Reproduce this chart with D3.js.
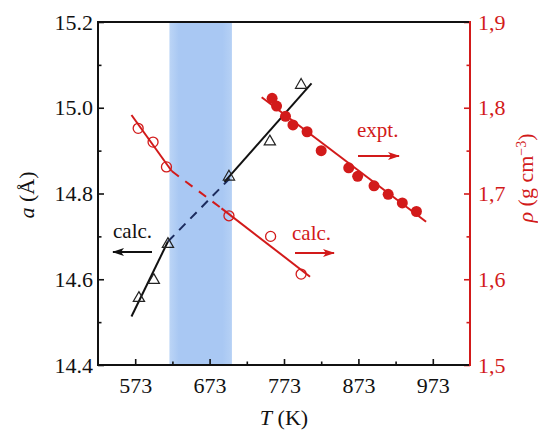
<!DOCTYPE html>
<meta charset="utf-8">
<style>
body { margin: 0; background: #fff; }
svg { display: block; }
text { font-family: "Liberation Serif", "Times New Roman", serif; }
</style>
<svg width="538" height="431"></svg>
<script src="https://d3js.org/d3.v7.min.js"></script>
<script>

// calculated lattice parameter a (open triangles)
var calcAT = [578, 598, 617, 699, 754, 796];
var calcA = [14.556, 14.598, 14.682, 14.839, 14.921, 15.053];

// calculated density (open circles)
var calcRhoT = [577, 597, 615, 699, 755, 796];
var calcRho = [1.776, 1.760, 1.731, 1.674, 1.650, 1.606];

// experimental density (filled circles)
var exptT = [757, 763, 775, 785, 804, 823, 860, 872, 894, 913, 932, 951];
var exptRho = [1.811, 1.802, 1.790, 1.780, 1.772, 1.750, 1.730, 1.720, 1.709, 1.699, 1.689, 1.679];

// fitted lines [T, value]
var aFitLow = [[568, 14.513], [617, 14.688]];
var aFitDash = [[617, 14.688], [700, 14.835]];
var aFitHigh = [[693, 14.827], [810, 15.057]];
var rhoFitLow = [[568, 1.7915], [622, 1.7262]];
var rhoFitDash = [[622, 1.7262], [689, 1.6827]];
var rhoFitHigh = [[689, 1.6827], [808, 1.603]];
var exptFit = [[743, 1.8122], [964, 1.6671]];

// shaded transition range
var band = [619, 703];

var xMajor = [573, 673, 773, 873, 973];
var xMinor = [623, 723, 823, 923];
var aMajor = [14.4, 14.6, 14.8, 15.0, 15.2];
var aMinor = [14.5, 14.7, 14.9, 15.1];
var rMajor = [1.5, 1.6, 1.7, 1.8, 1.9];
var rMinor = [1.55, 1.65, 1.75, 1.85];

var red = "#d21a1a";

var svg = d3.select("svg"),
    pL = 98, pR = 470, pT = 22, pB = 365;

var x = d3.scaleLinear().domain([523, 1023]).range([pL, pR]);
var yA = d3.scaleLinear().domain([14.4, 15.2]).range([pB, pT]);
var yR = d3.scaleLinear().domain([1.5, 1.9]).range([pB, pT]);

var defs = svg.append("defs");
var grad = defs.append("linearGradient").attr("id", "bandGrad");
grad.append("stop").attr("offset", "0%").attr("stop-color", "#bcd5f6");
grad.append("stop").attr("offset", "15%").attr("stop-color", "#a9c8f3");
grad.append("stop").attr("offset", "85%").attr("stop-color", "#a9c8f3");
grad.append("stop").attr("offset", "100%").attr("stop-color", "#b6d1f5");

function arrowMarker(id, color) {
  defs.append("marker")
      .attr("id", id)
      .attr("markerUnits", "userSpaceOnUse")
      .attr("viewBox", "0 0 12 8")
      .attr("refX", 11).attr("refY", 4)
      .attr("markerWidth", 12).attr("markerHeight", 8)
      .attr("orient", "auto")
    .append("path")
      .attr("d", "M0,0L12,4L0,8L3,4Z")
      .attr("fill", color);
}
arrowMarker("arrBlack", "#111");
arrowMarker("arrRed", red);

// band
svg.append("rect")
    .attr("x", x(band[0]))
    .attr("y", pT)
    .attr("width", x(band[1]) - x(band[0]))
    .attr("height", pB - pT)
    .attr("fill", "url(#bandGrad)");

// ticks
function ticks(axis, trans, vals, size, fmt, pad, color) {
  var g = svg.append("g").attr("transform", trans)
      .call(axis.tickValues(vals).tickSize(size).tickSizeOuter(0).tickPadding(pad).tickFormat(fmt));
  g.select(".domain").remove();
  g.selectAll("line").attr("stroke", color).attr("stroke-width", 1.6);
  g.selectAll("text").attr("font-size", 22).attr("fill", color)
      .attr("font-family", "Liberation Serif, Times New Roman, serif");
  return g;
}

ticks(d3.axisBottom(x), "translate(0," + pB + ")", xMajor, -6, d3.format("d"), 12.5, "#111");
ticks(d3.axisBottom(x), "translate(0," + pB + ")", xMinor, -3.5, "", 0, "#111");
ticks(d3.axisLeft(yA), "translate(" + pL + ",0)", aMajor, -6, d3.format(".1f"), 5, "#111");
ticks(d3.axisLeft(yA), "translate(" + pL + ",0)", aMinor, -3.5, "", 0, "#111");
ticks(d3.axisRight(yR), "translate(" + pR + ",0)", rMajor, -6,
  function(d) { return d3.format(".1f")(d).replace(".", ","); }, 8, red);
ticks(d3.axisRight(yR), "translate(" + pR + ",0)", rMinor, -3.5, "", 0, red);

// frame
svg.append("path")
    .attr("d", "M" + pR + "," + pT + "H" + pL + "V" + pB + "H" + pR)
    .attr("fill", "none").attr("stroke", "#111").attr("stroke-width", 2);
svg.append("line")
    .attr("x1", pR).attr("x2", pR).attr("y1", pT - 1).attr("y2", pB + 1)
    .attr("stroke", red).attr("stroke-width", 2);

// fit lines
var lineA = d3.line().x(function(d) { return x(d[0]); }).y(function(d) { return yA(d[1]); });
var lineR = d3.line().x(function(d) { return x(d[0]); }).y(function(d) { return yR(d[1]); });

function drawLine(data, gen, color, dash) {
  svg.append("path").datum(data)
      .attr("d", gen)
      .attr("fill", "none")
      .attr("stroke", color)
      .attr("stroke-width", 2)
      .attr("stroke-dasharray", dash || null);
}
drawLine(aFitLow, lineA, "#111");
drawLine(aFitDash, lineA, "#1c2c5e", "9,7");
drawLine(aFitHigh, lineA, "#111");
drawLine(rhoFitLow, lineR, red);
drawLine(rhoFitDash, lineR, red, "9,8");
drawLine(rhoFitHigh, lineR, red);
drawLine(exptFit, lineR, red);

// markers
var tri = d3.symbol().type(d3.symbolTriangle).size(55);
svg.append("g").selectAll("path")
  .data(d3.zip(calcAT, calcA))
  .join("path")
    .attr("transform", function(d) { return "translate(" + x(d[0]) + "," + yA(d[1]) + ")"; })
    .attr("d", tri)
    .attr("fill", "none")
    .attr("stroke", "#222")
    .attr("stroke-width", 1.2);

svg.append("g").selectAll("circle")
  .data(d3.zip(calcRhoT, calcRho))
  .join("circle")
    .attr("cx", function(d) { return x(d[0]); })
    .attr("cy", function(d) { return yR(d[1]); })
    .attr("r", 5)
    .attr("fill", "none")
    .attr("stroke", red)
    .attr("stroke-width", 1.3);

svg.append("g").selectAll("circle")
  .data(d3.zip(exptT, exptRho))
  .join("circle")
    .attr("cx", function(d) { return x(d[0]); })
    .attr("cy", function(d) { return yR(d[1]); })
    .attr("r", 5.5)
    .attr("fill", red);

// annotations
svg.append("text").attr("x", 113).attr("y", 238).attr("font-size", 21).attr("fill", "#111").text("calc.");
svg.append("line").attr("x1", 152).attr("y1", 252).attr("x2", 113).attr("y2", 252)
    .attr("stroke", "#111").attr("stroke-width", 2).attr("marker-end", "url(#arrBlack)");

svg.append("text").attr("x", 292).attr("y", 240).attr("font-size", 21).attr("fill", red).text("calc.");
svg.append("line").attr("x1", 295).attr("y1", 253).attr("x2", 334).attr("y2", 253)
    .attr("stroke", red).attr("stroke-width", 2).attr("marker-end", "url(#arrRed)");

svg.append("text").attr("x", 357).attr("y", 137).attr("font-size", 21).attr("fill", red).text("expt.");
svg.append("line").attr("x1", 358).attr("y1", 156).attr("x2", 399).attr("y2", 156)
    .attr("stroke", red).attr("stroke-width", 2).attr("marker-end", "url(#arrRed)");

// axis titles
var tx = svg.append("text").attr("x", (pL + pR) / 2).attr("y", 425)
    .attr("text-anchor", "middle").attr("font-size", 22).attr("fill", "#111");
tx.append("tspan").attr("font-style", "italic").text("T");
tx.append("tspan").text(" (K)");

var ta = svg.append("text")
    .attr("transform", "translate(34,195) rotate(-90)")
    .attr("text-anchor", "middle").attr("font-size", 22).attr("fill", "#111");
ta.append("tspan").attr("font-style", "italic").text("a");
ta.append("tspan").text(" (Å)");

var tR = svg.append("text")
    .attr("transform", "translate(533,178) rotate(-90)")
    .attr("text-anchor", "middle").attr("font-size", 22).attr("fill", red);
tR.append("tspan").attr("font-style", "italic").text("ρ");
tR.append("tspan").text(" (g cm");
tR.append("tspan").attr("baseline-shift", "super").attr("font-size", 14).text("−3");
tR.append("tspan").text(")");

</script>
